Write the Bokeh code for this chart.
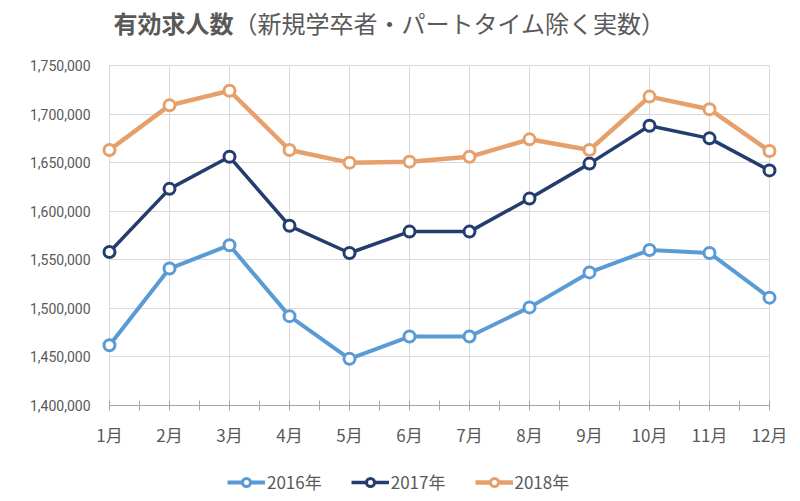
from bokeh.plotting import figure
from bokeh.models import (Range1d, FixedTicker, NumeralTickFormatter, Legend, LegendItem,
                          Label, ColumnDataSource)
from bokeh.embed import file_html
from bokeh.resources import INLINE

# ---- data ----
months = ["1月", "2月", "3月", "4月", "5月", "6月", "7月", "8月", "9月", "10月", "11月", "12月"]
series_names = ["2016年", "2017年", "2018年"]
v2016 = [1462000, 1541000, 1565000, 1492000, 1448000, 1471000, 1471000, 1501000, 1537000, 1560000, 1557000, 1511000]
v2017 = [1558000, 1623000, 1656000, 1585000, 1557000, 1579000, 1579000, 1613000, 1649000, 1688000, 1675000, 1642000]
v2018 = [1663000, 1709000, 1724000, 1663000, 1650000, 1651000, 1656000, 1674000, 1663000, 1718000, 1705000, 1662000]
y_ticks = [1400000, 1450000, 1500000, 1550000, 1600000, 1650000, 1700000, 1750000]
title_bold = "有効求人数"
title_rest = "（新規学卒者・パートタイム除く実数）"

colors = ["#5B9BD5", "#233E6E", "#E6A06C"]
widths = [4, 3.5, 4.5]

xpos = list(range(1, len(months) + 1))
minor_pos = [m + 0.5 for m in xpos[:-1]]

# layout (pixels): the frame covers the whole canvas right of the y labels,
# so title, legend and axis labels sit inside it and are not clipped
CANVAS_W = 800
FRAME_H = 501
FRAME_LEFT = 97
FIRST_PX, LAST_PX = 109, 769   # pixel columns of the first and last month
GRID_TOP_PX = 65               # pixel row of the top gridline
AXIS_PX = 405                  # pixel row of the x axis
x_per_px = (xpos[-1] - xpos[0]) / (LAST_PX - FIRST_PX)
x_start = xpos[0] - (FIRST_PX - FRAME_LEFT) * x_per_px
x_end = xpos[-1] + (CANVAS_W - LAST_PX) * x_per_px
per_px = (y_ticks[-1] - y_ticks[0]) / (AXIS_PX - GRID_TOP_PX)
y_end = y_ticks[-1] + GRID_TOP_PX * per_px
y_start = y_ticks[0] - (FRAME_H - AXIS_PX) * per_px

p = figure(width=CANVAS_W, height=FRAME_H, frame_width=CANVAS_W - FRAME_LEFT, frame_height=FRAME_H,
           x_range=Range1d(x_start, x_end),
           y_range=Range1d(y_start, y_end),
           output_backend="svg", toolbar_location=None,
           min_border_left=FRAME_LEFT, min_border_right=0, min_border_top=0, min_border_bottom=0)
p.outline_line_color = None
p.background_fill_color = "white"
p.border_fill_color = "white"

# x axis, drawn at the 1,400,000 level inside the frame
p.xaxis.fixed_location = y_ticks[0]
p.xaxis.ticker = FixedTicker(ticks=xpos, minor_ticks=minor_pos)
p.xaxis.major_label_overrides = {x: m for x, m in zip(xpos, months)}
p.xaxis.bounds = (xpos[0], xpos[-1])
p.xaxis.axis_line_color = "#a6a6a6"
p.xaxis.axis_line_width = 1.2
p.xaxis.major_tick_line_color = "#a6a6a6"
p.xaxis.minor_tick_line_color = "#a6a6a6"
p.xaxis.major_tick_in = 5
p.xaxis.major_tick_out = 5
p.xaxis.minor_tick_in = 5
p.xaxis.minor_tick_out = 5
p.xaxis.major_label_standoff = 11
p.xaxis.major_label_text_font = "Noto Sans CJK JP"
p.xaxis.major_label_text_font_size = "17px"
p.xaxis.major_label_text_color = "#595959"

# y axis
p.yaxis.ticker = FixedTicker(ticks=y_ticks)
p.yaxis.formatter = NumeralTickFormatter(format="0,0")
p.yaxis.axis_line_color = None
p.yaxis.major_tick_line_color = None
p.yaxis.minor_tick_line_color = None
p.yaxis.major_tick_out = 0
p.yaxis.major_tick_in = 0
p.yaxis.major_label_standoff = 7
p.yaxis.major_label_text_font = "Roboto"
p.yaxis.major_label_text_font_size = "14px"
p.yaxis.major_label_text_color = "#595959"

# grids
p.xgrid.ticker = FixedTicker(ticks=xpos)
p.xgrid.grid_line_color = "#d9d9d9"
p.xgrid.grid_line_width = 1
p.xgrid.cross_bounds = (y_ticks[0], y_ticks[-1])
p.ygrid.ticker = FixedTicker(ticks=y_ticks)
p.ygrid.grid_line_color = "#d9d9d9"
p.ygrid.grid_line_width = 1
p.ygrid.cross_bounds = (xpos[0], xpos[-1])

items = []
for name, vals, c, w in zip(series_names, [v2016, v2017, v2018], colors, widths):
    src = ColumnDataSource(dict(x=xpos, y=vals))
    r1 = p.line("x", "y", source=src, line_color=c, line_width=w)
    r2 = p.scatter("x", "y", source=src, marker="circle", size=11, fill_color="white",
                   line_color=c, line_width=3)
    items.append(LegendItem(label=name, renderers=[r1, r2]))

legend = Legend(items=items, orientation="horizontal", location=(130, 7),
                glyph_width=38, glyph_height=20, label_standoff=2, spacing=29,
                label_text_font="Noto Sans CJK JP", label_text_font_size="17px",
                label_text_color="#595959", border_line_color=None,
                background_fill_alpha=0, padding=5, margin=0)
p.add_layout(legend)

# title as two labels (bold + normal), inside the frame area
t1 = Label(x=16, y=FRAME_H - 22, x_units="screen", y_units="screen", text=title_bold,
           text_font="Noto Sans CJK JP", text_font_size="24px", text_font_style="bold",
           text_color="#595959", text_baseline="middle", text_align="left")
t2 = Label(x=136, y=FRAME_H - 22, x_units="screen", y_units="screen", text=title_rest,
           text_font="Noto Sans CJK JP", text_font_size="24px", text_font_style="normal",
           text_color="#595959", text_baseline="middle", text_align="left")
p.add_layout(t1)
p.add_layout(t2)

open("out.html", "w").write(file_html(p, INLINE))
